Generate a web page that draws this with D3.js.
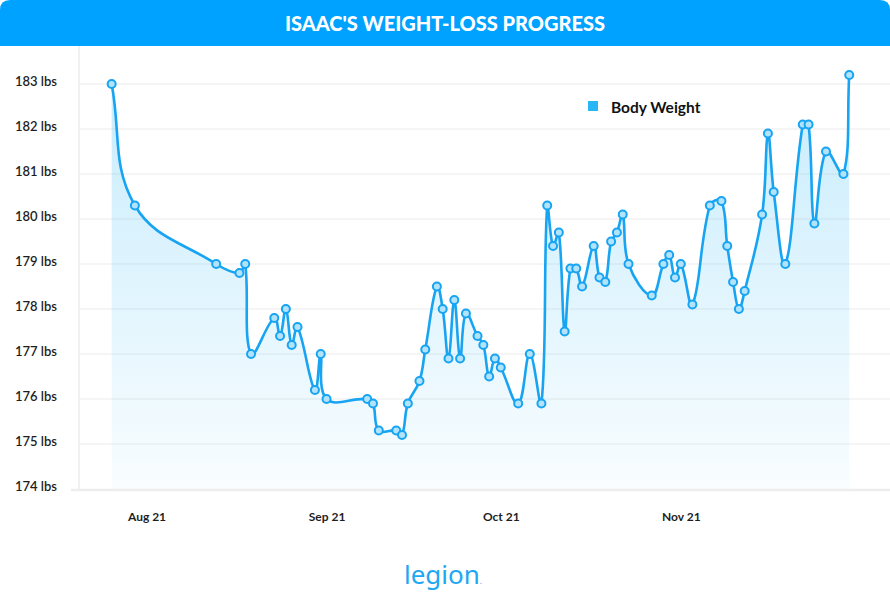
<!DOCTYPE html>
<html>
<head>
<meta charset="utf-8">
<script src="https://cdn.jsdelivr.net/npm/d3@7"></script>
<style>
  html, body { margin: 0; padding: 0; background: #fff; }
  svg { display: block; }
</style>
</head>
<body>
<svg id="chart" width="890" height="613"></svg>
<script>
// ---- data ----
const dates = [
  "2021-07-26","2021-07-30","2021-08-13","2021-08-17","2021-08-18","2021-08-19",
  "2021-08-23","2021-08-24","2021-08-25","2021-08-26","2021-08-27","2021-08-30",
  "2021-08-31","2021-09-01","2021-09-08","2021-09-09","2021-09-10","2021-09-13",
  "2021-09-14","2021-09-15","2021-09-17","2021-09-18","2021-09-20","2021-09-21",
  "2021-09-22","2021-09-23","2021-09-24","2021-09-25","2021-09-27","2021-09-28",
  "2021-09-29","2021-09-30","2021-10-01","2021-10-04","2021-10-06","2021-10-08",
  "2021-10-09","2021-10-10","2021-10-11","2021-10-12","2021-10-13","2021-10-14",
  "2021-10-15","2021-10-17","2021-10-18","2021-10-19","2021-10-20","2021-10-21",
  "2021-10-22","2021-10-23","2021-10-27","2021-10-29","2021-10-30","2021-10-31",
  "2021-11-01","2021-11-03","2021-11-06","2021-11-08","2021-11-09","2021-11-10",
  "2021-11-11","2021-11-12","2021-11-15","2021-11-16","2021-11-17","2021-11-19",
  "2021-11-22","2021-11-23","2021-11-24","2021-11-26","2021-11-29","2021-11-30"
];
const bodyWeight = [
  183.0,180.3,179.0,178.8,179.0,177.0,
  177.8,177.4,178.0,177.2,177.6,176.2,
  177.0,176.0,176.0,175.9,175.3,175.3,
  175.2,175.9,176.4,177.1,178.5,178.0,
  176.9,178.2,176.9,177.9,177.4,177.2,
  176.5,176.9,176.7,175.9,177.0,175.9,
  180.3,179.4,179.7,177.5,178.9,178.9,
  178.5,179.4,178.7,178.6,179.5,179.7,
  180.1,179.0,178.3,179.0,179.2,178.7,
  179.0,178.1,180.3,180.4,179.4,178.6,
  178.0,178.4,180.1,181.9,180.6,179.0,
  182.1,182.1,179.9,181.5,181.0,183.2
];
const yTicks = [174,175,176,177,178,179,180,181,182,183];
const xTickDates = ["2021-08-01","2021-09-01","2021-10-01","2021-11-01"];
const titleText = "ISAAC'S WEIGHT-LOSS PROGRESS";
const seriesName = "Body Weight";
const logoText = "legion";

// ---- setup ----
const W = 890, H = 613;
const plotLeft = 80, plotRight = W, plotTop = 46, plotBottom = 489;

// ---- tension spline curve (control points from neighbour distances) ----
function TensionSpline(context, t) { this._context = context; this._t = t; }
TensionSpline.prototype = {
  areaStart() { this._line = 0; },
  areaEnd() { this._line = NaN; },
  lineStart() { this._pts = []; },
  point(x, y) { this._pts.push({ x: +x, y: +y }); },
  lineEnd() {
    const p = this._pts, c = this._context, n = p.length, t = this._t;
    const cap = (v, lo, hi) => Math.max(lo, Math.min(hi, v));
    let prev = p[0];
    for (let i = 0; i < n; i++) {
      const cur = p[i], next = p[Math.min(i + 1, n - 1)];
      const d01 = Math.hypot(cur.x - prev.x, cur.y - prev.y);
      const d12 = Math.hypot(next.x - cur.x, next.y - cur.y);
      let s01 = d01 / (d01 + d12), s12 = d12 / (d01 + d12);
      if (isNaN(s01)) s01 = 0;
      if (isNaN(s12)) s12 = 0;
      const fa = t * s01, fb = t * s12;
      cur.c1x = cap(cur.x - fa * (next.x - prev.x), plotLeft, plotRight);
      cur.c1y = cap(cur.y - fa * (next.y - prev.y), plotTop, plotBottom);
      cur.c2x = cap(cur.x + fb * (next.x - prev.x), plotLeft, plotRight);
      cur.c2y = cap(cur.y + fb * (next.y - prev.y), plotTop, plotBottom);
      prev = cur;
    }
    for (let i = 0; i < n; i++) {
      const q = p[i];
      if (i === 0) { this._line ? c.lineTo(q.x, q.y) : c.moveTo(q.x, q.y); continue; }
      const a = p[i - 1];
      c.bezierCurveTo(a.c2x, a.c2y, q.c1x, q.c1y, q.x, q.y);
    }
    if (this._line || (this._line !== 0 && n === 1)) c.closePath();
    this._line = 1 - this._line;
  }
};
const curveTension = ctx => new TensionSpline(ctx, 0.4);

const svg = d3.select("#chart");
const parse = d3.utcParse("%Y-%m-%d");
const data = dates.map((d, i) => ({ date: parse(d), value: bodyWeight[i] }));

const blue = "#00a2ff";
const lineBlue = "#17a4f2";
const font = "Lato, 'Open Sans', sans-serif";

const x = d3.scaleUtc()
  .domain([parse("2021-08-01"), parse("2021-11-01")])
  .range([146.5, 680.8]);
const y = d3.scaleLinear().domain([174, 183]).range([plotBottom, 84]);

// ---- title bar ----
svg.append("path")
  .attr("d", `M0,46 L0,10 Q0,0 10,0 L${W-10},0 Q${W},0 ${W},10 L${W},46 Z`)
  .attr("fill", blue);
svg.append("text")
  .attr("x", W/2).attr("y", 23)
  .attr("text-anchor", "middle").attr("dominant-baseline", "central")
  .attr("font-family", font).attr("font-weight", 900)
  .attr("font-size", 20).attr("fill", "#fff")
  .text(titleText);

// ---- grid ----
const grid = svg.append("g");
grid.selectAll("line.g").data(yTicks.filter(t => t !== 174)).join("line")
  .attr("x1", plotLeft).attr("x2", plotRight)
  .attr("y1", d => y(d)).attr("y2", d => y(d))
  .attr("stroke", "#ececec").attr("stroke-width", 1.2);
grid.append("line")
  .attr("x1", plotLeft - 1).attr("x2", plotLeft - 1)
  .attr("y1", plotTop).attr("y2", y(174))
  .attr("stroke", "#ececec").attr("stroke-width", 1.5);

// ---- y axis labels ----
const yAxis = d3.axisLeft(y).tickValues(yTicks).tickSize(0).tickPadding(0)
  .tickFormat(d => d + " lbs");
const yg = svg.append("g").attr("transform", "translate(57,-3)").call(yAxis);
yg.select(".domain").remove();
yg.selectAll("text")
  .attr("font-family", font).attr("font-size", 13).attr("font-weight", 600)
  .attr("fill", "#1e1e1e");

// ---- area + line ----
const defs = svg.append("defs");
const grad = defs.append("linearGradient").attr("id", "areaGrad")
  .attr("gradientUnits", "userSpaceOnUse")
  .attr("x1", 0).attr("x2", 0).attr("y1", y(183.2)).attr("y2", y(174));
grad.append("stop").attr("offset", 0).attr("stop-color", "#29b6f6").attr("stop-opacity", 0.26);
grad.append("stop").attr("offset", 1).attr("stop-color", "#29b6f6").attr("stop-opacity", 0.03);

const area = d3.area().curve(curveTension)
  .x(d => x(d.date)).y0(y(174)).y1(d => y(d.value));
const line = d3.line().curve(curveTension)
  .x(d => x(d.date)).y(d => y(d.value));

svg.append("path").datum(data).attr("d", area).attr("fill", "url(#areaGrad)");

// baseline
svg.append("line")
  .attr("x1", 71).attr("x2", plotRight)
  .attr("y1", y(174) + 1).attr("y2", y(174) + 1)
  .attr("stroke", "#ededed").attr("stroke-width", 2.5);

svg.append("path").datum(data).attr("d", line)
  .attr("fill", "none").attr("stroke", lineBlue).attr("stroke-width", 2.6)
  .attr("stroke-linejoin", "round");

svg.append("g").selectAll("circle").data(data).join("circle")
  .attr("cx", d => x(d.date)).attr("cy", d => y(d.value))
  .attr("r", 4)
  .attr("fill", "#b3e3fb").attr("stroke", lineBlue).attr("stroke-width", 2);

// ---- x axis ----
const xAxis = d3.axisBottom(x).tickValues(xTickDates.map(parse))
  .tickSize(0).tickPadding(0).tickFormat(d3.utcFormat("%b %y"));
const xg = svg.append("g").attr("transform", "translate(0,512)").call(xAxis);
xg.select(".domain").remove();
xg.selectAll("text")
  .attr("font-family", font).attr("font-size", 12).attr("font-weight", 700)
  .attr("fill", "#1e1e1e");

// ---- legend ----
svg.append("rect").attr("x", 588).attr("y", 101).attr("width", 10).attr("height", 10)
  .attr("fill", "#29b6f6");
svg.append("text").attr("x", 611).attr("y", 107)
  .attr("dominant-baseline", "central")
  .attr("font-family", font).attr("font-weight", 700).attr("font-size", 15.5)
  .attr("fill", "#111").text(seriesName);

// ---- logo ----
const logo = svg.append("text").attr("x", 443).attr("y", 584)
  .attr("text-anchor", "middle")
  .attr("font-family", "'Noto Sans', sans-serif").attr("font-weight", 400)
  .attr("font-size", 26).attr("fill", "#1ea7f2");
logo.append("tspan").text(logoText);
logo.append("tspan").attr("font-size", 8).text(".");
</script>
</body>
</html>
